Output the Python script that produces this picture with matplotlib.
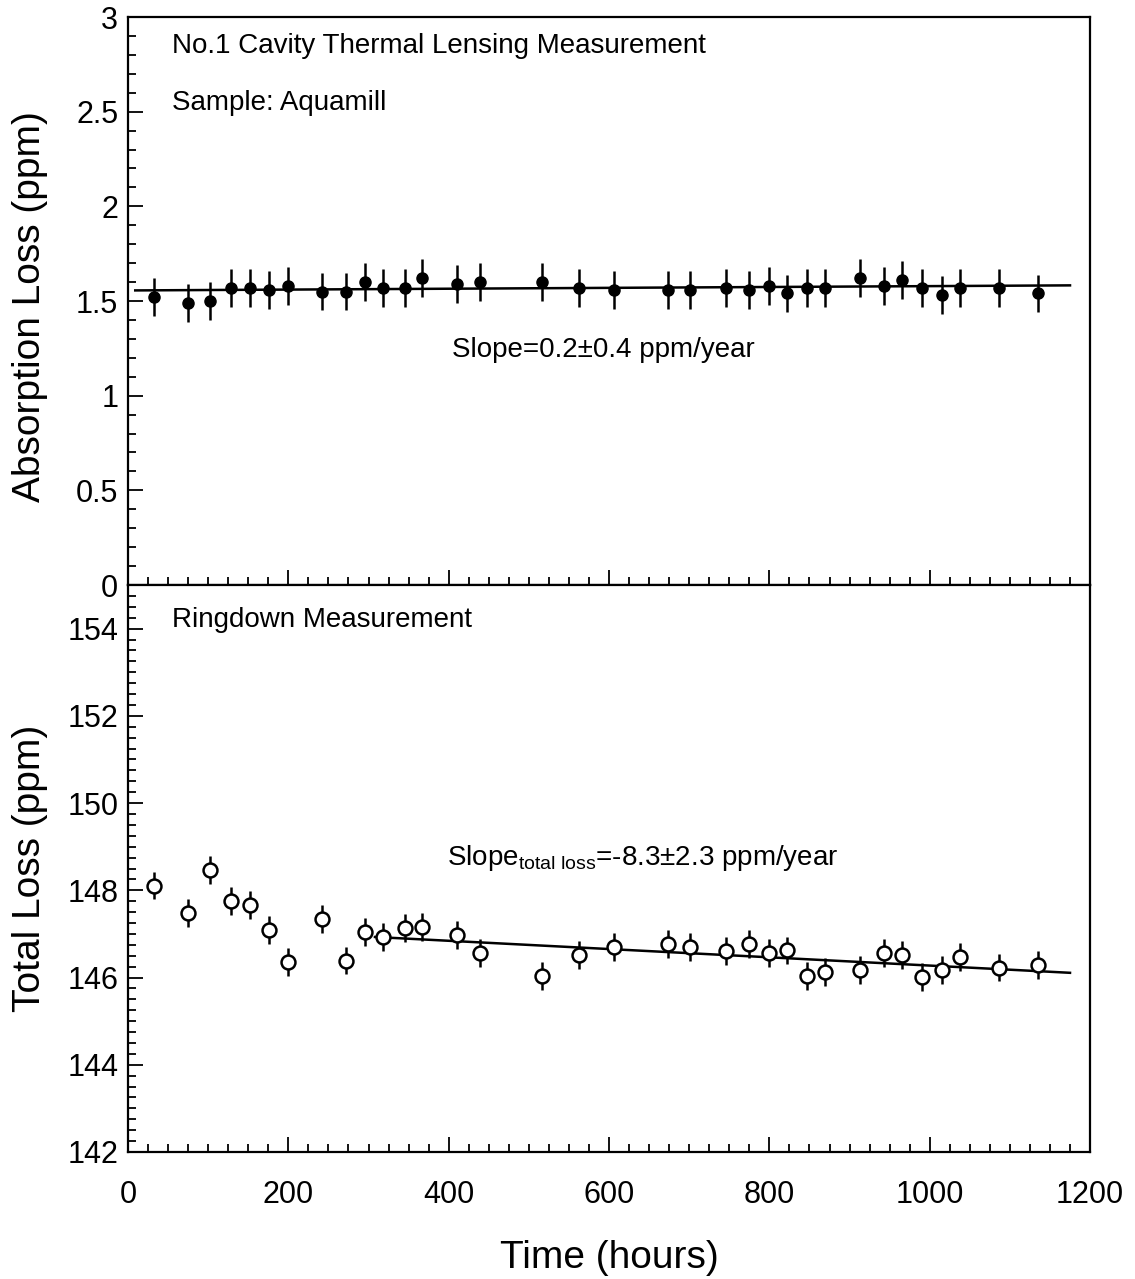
import matplotlib
matplotlib.use('Agg')
import matplotlib.pyplot as plt
from matplotlib.ticker import MultipleLocator
import numpy as np

plt.rcParams['font.family'] = ['Liberation Sans', 'DejaVu Sans']
plt.rcParams['mathtext.fontset'] = 'custom'
plt.rcParams['mathtext.rm'] = 'Liberation Sans'
plt.rcParams['mathtext.it'] = 'Liberation Sans:italic'

# measurement times (hours)
hours = [32, 75, 102, 128, 152, 176, 200, 242, 272, 296, 318, 345, 367,
         410, 439, 516, 562, 606, 673, 701, 746, 774, 799, 822, 847, 870,
         913, 943, 966, 990, 1015, 1038, 1087, 1135]

# thermal lensing absorption loss (ppm)
absorption = [1.52, 1.49, 1.50, 1.57, 1.57, 1.56, 1.58, 1.55, 1.55, 1.60,
              1.57, 1.57, 1.62, 1.59, 1.60, 1.60, 1.57, 1.56, 1.56, 1.56,
              1.57, 1.56, 1.58, 1.54, 1.57, 1.57, 1.62, 1.58, 1.61, 1.57,
              1.53, 1.57, 1.57, 1.54]
absorption_err = [0.10] * len(hours)

# ringdown total loss (ppm)
total_loss = [148.11, 147.48, 148.47, 147.76, 147.66, 147.10, 146.36, 147.35,
              146.39, 147.05, 146.93, 147.13, 147.16, 146.97, 146.56, 146.04,
              146.52, 146.69, 146.77, 146.71, 146.61, 146.76, 146.56, 146.62,
              146.04, 146.12, 146.17, 146.56, 146.52, 146.02, 146.17, 146.48,
              146.23, 146.29]
total_err = [0.32] * len(hours)

# linear fits: slopes in ppm/year
abs_fit_range = [9, 1175]
abs_fit_slope = 0.2
abs_fit_start = 1.556
tot_fit_range = [308, 1175]
tot_fit_slope = -8.3
tot_fit_start = 146.93

fig = plt.figure(figsize=(11.35, 12.79), dpi=100)
ax1 = fig.add_axes([0.1128, 0.5426, 0.8476, 0.4441])
ax2 = fig.add_axes([0.1128, 0.0993, 0.8476, 0.4433], sharex=ax1)

for ax in (ax1, ax2):
    for sp in ax.spines.values():
        sp.set_linewidth(1.6)
    ax.tick_params(which='both', direction='in', top=False, right=False,
                   labelsize=22, width=1.3)
    ax.tick_params(which='major', length=11)
    ax.tick_params(which='minor', length=5.5)
    ax.tick_params(axis='y', pad=7)
    ax.tick_params(axis='x', pad=20)
    ax.xaxis.set_major_locator(MultipleLocator(200))
    ax.xaxis.set_minor_locator(MultipleLocator(25))

# top panel: absorption
ax1.errorbar(hours, absorption, yerr=absorption_err, fmt='o', color='black',
             ms=8, elinewidth=1.8, capsize=0, zorder=3)
fx = np.array(abs_fit_range, dtype=float)
fy = abs_fit_start + abs_fit_slope / 8760.0 * (fx - fx[0])
ax1.plot(fx, fy, color='black', lw=1.8, zorder=2)
ax1.set_xlim(0, 1200)
ax1.set_ylim(0, 3)
ax1.yaxis.set_major_locator(MultipleLocator(0.5))
ax1.yaxis.set_minor_locator(MultipleLocator(0.1))
ax1.yaxis.set_major_formatter(plt.FuncFormatter(lambda v, p: f'{v:g}'))
plt.setp(ax1.get_xticklabels(), visible=False)
ax1.set_ylabel('Absorption Loss (ppm)', fontsize=28)
ax1.yaxis.set_label_coords(-0.083, 0.49)
ax1.text(0.0457, 0.949, 'No.1 Cavity Thermal Lensing Measurement',
         transform=ax1.transAxes, fontsize=20, va='center', ha='left')
ax1.text(0.0457, 0.849, 'Sample: Aquamill',
         transform=ax1.transAxes, fontsize=20, va='center', ha='left')
ax1.text(0.337, 0.414, 'Slope=0.2\u00b10.4 ppm/year',
         transform=ax1.transAxes, fontsize=20, va='center', ha='left')

# bottom panel: total loss
ax2.errorbar(hours, total_loss, yerr=total_err, fmt='o', color='black',
             mfc='white', mec='black', mew=1.8, ms=10, elinewidth=1.8,
             capsize=0, zorder=3)
fx = np.array(tot_fit_range, dtype=float)
fy = tot_fit_start + tot_fit_slope / 8760.0 * (fx - fx[0])
ax2.plot(fx, fy, color='black', lw=1.8, zorder=2)
ax2.set_ylim(142, 155)
ax2.yaxis.set_major_locator(MultipleLocator(2))
ax2.yaxis.set_minor_locator(MultipleLocator(0.25))
ax2.set_ylabel('Total Loss (ppm)', fontsize=28)
ax2.yaxis.set_label_coords(-0.083, 0.5)
ax2.set_xlabel('Time (hours)', fontsize=28, labelpad=22)
ax2.text(0.0457, 0.938, 'Ringdown Measurement',
         transform=ax2.transAxes, fontsize=20, va='center', ha='left')
ax2.text(0.332, 0.519, r'Slope$_{\mathrm{total\ loss}}$=-8.3\u00b12.3 ppm/year'.replace('\\u00b1', '\u00b1'),
         transform=ax2.transAxes, fontsize=20, va='center', ha='left')

fig.savefig('out.png', dpi=100)
